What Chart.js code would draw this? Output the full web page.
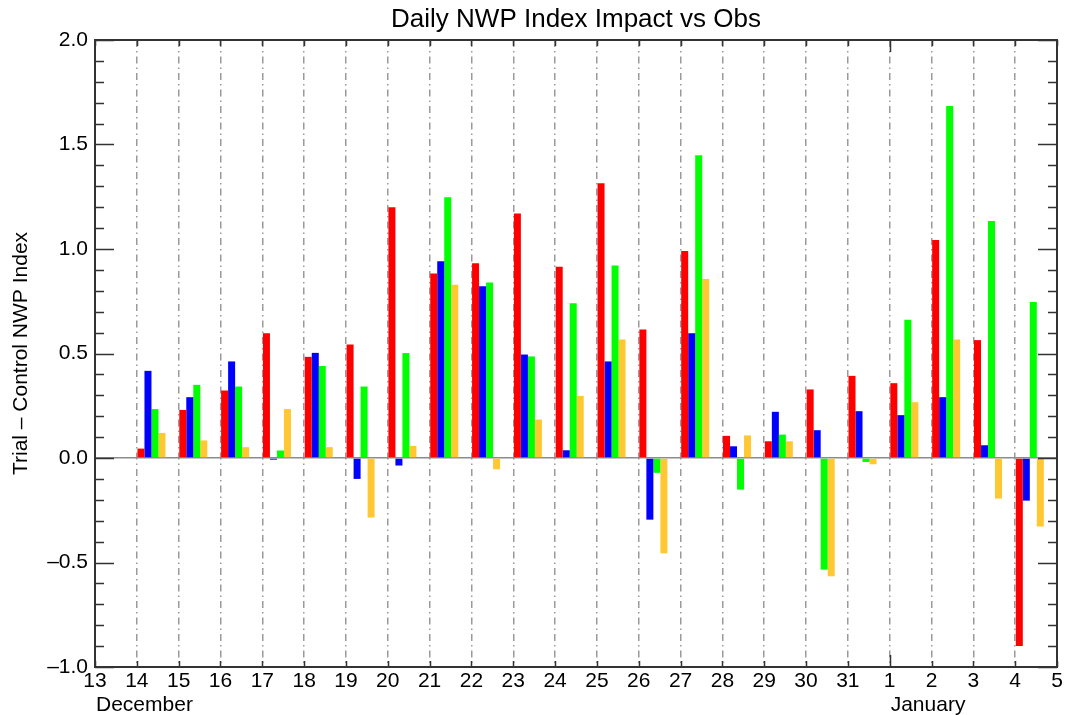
<!DOCTYPE html>
<html>
<head>
<meta charset="utf-8">
<title>Daily NWP Index Impact vs Obs</title>
<script src="https://cdn.jsdelivr.net/npm/chart.js@4.4.1/dist/chart.umd.min.js"></script>
<style>
  body { margin: 0; background: #fff; }
</style>
</head>
<body>
<canvas id="chart" width="1067" height="715"></canvas>
<script>
// tick labels along the bottom axis (one per day boundary)
const tickLabels = ["13", "14", "15", "16", "17", "18", "19", "20", "21", "22", "23", "24",
  "25", "26", "27", "28", "29", "30", "31", "1", "2", "3", "4", "5"];
// days that have bars (each drawn in the interval right after its tick)
const barDays = ["14", "15", "16", "17", "18", "19", "20", "21", "22", "23", "24", "25",
  "26", "27", "28", "29", "30", "31", "1", "2", "3", "4"];
const monthNames = ["December", "January"];
const monthStarts = ["13", "1"];

const redValues = [0.045, 0.23, 0.323, 0.597, 0.484, 0.543, 1.20, 0.883, 0.932, 1.170, 0.915,
  1.314, 0.615, 0.991, 0.106, 0.080, 0.328, 0.393, 0.358, 1.043, 0.564, -0.90];
const blueValues = [0.417, 0.291, 0.462, -0.008, 0.503, -0.10, -0.036, 0.941, 0.822, 0.495, 0.037,
  0.462, -0.295, 0.597, 0.056, 0.221, 0.133, 0.224, 0.205, 0.291, 0.061, -0.204];
const greenValues = [0.234, 0.35, 0.342, 0.036, 0.44, 0.342, 0.502, 1.248, 0.840, 0.486, 0.740,
  0.921, -0.071, 1.449, -0.151, 0.112, -0.534, -0.019, 0.661, 1.684, 1.134, 0.747];
const orangeValues = [0.12, 0.084, 0.052, 0.234, 0.052, -0.285, 0.058, 0.829, -0.054, 0.184, 0.297,
  0.567, -0.456, 0.856, 0.108, 0.080, -0.566, -0.03, 0.267, 0.567, -0.194, -0.328];

const FONT = '"Liberation Sans", Arial, Helvetica, sans-serif';

// day index on the axis; the group of bars sits in the left part of each day
function points(values) {
  return values.map((v, i) => ({ x: tickLabels.indexOf(barDays[i], 1) + 0.35, y: v }));
}

const frameTicks = {
  id: "frameTicks",
  afterDatasetsDraw(chart) {
    const { ctx, chartArea: a, scales: { x, y } } = chart;
    ctx.save();
    ctx.strokeStyle = "#333";
    ctx.lineWidth = 1.5;
    ctx.beginPath();
    for (let i = 0; i <= 30; i++) {
      const py = Math.round(y.getPixelForValue(-1 + i / 10)) + 0.5;
      const len = i % 5 === 0 ? 19 : 9;
      ctx.moveTo(a.left, py); ctx.lineTo(a.left + len, py);
      ctx.moveTo(a.right, py); ctx.lineTo(a.right - len, py);
    }
    tickLabels.forEach((t, i) => {
      const px = Math.round(x.getPixelForValue(i)) + 0.5;
      const len = i > 0 && monthStarts.includes(t) ? 12 : 6;
      ctx.moveTo(px, a.top); ctx.lineTo(px, a.top + len);
      ctx.moveTo(px, a.bottom); ctx.lineTo(px, a.bottom - len);
    });
    ctx.stroke();
    ctx.lineWidth = 2;
    ctx.strokeRect(a.left, a.top, a.right - a.left, a.bottom - a.top);

    ctx.fillStyle = "#000";
    ctx.font = "21px " + FONT;
    ctx.textAlign = "left";
    ctx.textBaseline = "alphabetic";
    monthNames.forEach((m, k) => {
      ctx.fillText(m, x.getPixelForValue(tickLabels.indexOf(monthStarts[k])) + 1, 711);
    });
    ctx.restore();
  }
};

new Chart(document.getElementById("chart"), {
  type: "bar",
  data: {
    datasets: [
      { data: points(redValues), backgroundColor: "#ff0000" },
      { data: points(blueValues), backgroundColor: "#0000ff" },
      { data: points(greenValues), backgroundColor: "#00ff00" },
      { data: points(orangeValues), backgroundColor: "#ffc832" }
    ]
  },
  options: {
    responsive: false,
    animation: false,
    categoryPercentage: 0.67,
    barPercentage: 1.0,
    layout: { padding: { left: 0, right: 10, top: 0, bottom: 0 } },
    plugins: {
      legend: { display: false },
      tooltip: { enabled: false },
      title: {
        display: true,
        text: "Daily NWP Index Impact vs Obs",
        fullSize: false,
        color: "#000",
        font: { family: FONT, size: 26, weight: "normal" },
        padding: { top: 4, bottom: 4.8 }
      }
    },
    scales: {
      x: {
        type: "linear",
        min: 0,
        max: tickLabels.length - 1,
        offset: false,
        afterFit: s => { s.height = 48; },
        grid: { offset: false, drawTicks: false, color: "#9a9a9a", lineWidth: 1.5 },
        border: { display: false, dash: [7, 4, 1.5, 4] },
        ticks: {
          stepSize: 1,
          autoSkip: false,
          maxRotation: 0,
          padding: 2,
          color: "#000",
          font: { family: FONT, size: 21 },
          callback: v => tickLabels[v]
        }
      },
      y: {
        min: -1,
        max: 2,
        afterFit: s => { s.width = 95; },
        grid: {
          drawTicks: false,
          color: c => (c.tick && c.tick.value === 0 ? "#8c8c8c" : "rgba(0,0,0,0)"),
          lineWidth: 1.5
        },
        border: { display: false },
        title: {
          display: true,
          text: "Trial \u2013 Control NWP Index",
          color: "#000",
          font: { family: FONT, size: 21 },
          padding: { top: 9, bottom: 0 }
        },
        ticks: {
          stepSize: 0.5,
          padding: 7,
          color: "#000",
          font: { family: FONT, size: 21 },
          callback: v => v.toFixed(1).replace("-", "\u2013")
        }
      }
    }
  },
  plugins: [frameTicks]
});
</script>
</body>
</html>
